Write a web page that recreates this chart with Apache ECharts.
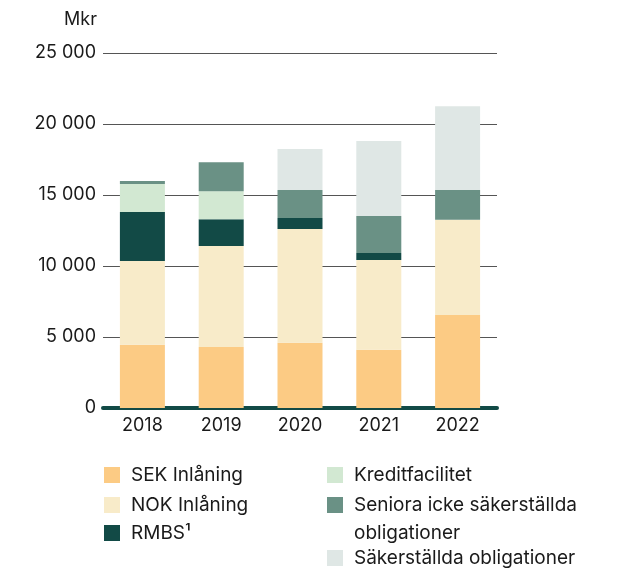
<!DOCTYPE html>
<html>
<head>
<meta charset="utf-8">
<script src="https://cdn.jsdelivr.net/npm/echarts@6/dist/echarts.min.js"></script>
<style>
  html, body { margin: 0; padding: 0; background: #fff; }
  #chart { width: 624px; height: 573px; }
</style>
</head>
<body>
<div id="chart"></div>
<script>
// data (Mkr)
var years = ['2018', '2019', '2020', '2021', '2022'];
var sekInlaning = [4450, 4300, 4600, 4100, 6550];
var nokInlaning = [5900, 7100, 8000, 6330, 6700];
var rmbs = [3450, 1900, 780, 490, 0];
var kredit = [1970, 1970, 0, 0, 0];
var seniora = [210, 2040, 1970, 2600, 2100];
var sakerstallda = [0, 0, 2890, 5280, 5900];

var names = ['SEK Inlåning', 'NOK Inlåning', 'RMBS¹', 'Kreditfacilitet',
    'Seniora icke säkerställda obligationer', 'Säkerställda obligationer'];
var colors = ['#fccb84', '#f8ebc9', '#124a46', '#d2e8d2', '#6a9185', '#dfe7e5'];
var values = [sekInlaning, nokInlaning, rmbs, kredit, seniora, sakerstallda];

var font = 'Inter, Roboto, sans-serif';

var myChart = echarts.init(document.getElementById('chart'));

// one legend per item so each sits where it does in the original
function legendItem(name, left, top) {
    return {
        data: [name],
        left: left,
        top: top,
        padding: 0,
        itemWidth: 16,
        itemHeight: 16,
        icon: 'rect',
        selectedMode: false,
        formatter: function (n) {
            // blank first line keeps the square next to the first text line
            return n === names[4] ? '\nSeniora icke säkerställda\nobligationer' : n;
        },
        textStyle: {
            fontFamily: font,
            fontSize: 19,
            color: '#1a1a1a',
            lineHeight: 28,
            padding: [0, 0, 0, 6]
        }
    };
}

var opt = {
    animation: false,
    color: colors,
    grid: { left: 103, right: 127, top: 53, bottom: 165 },
    legend: [
        legendItem(names[0], 104, 461),
        legendItem(names[1], 104, 491),
        legendItem(names[2], 104, 519),
        legendItem(names[3], 327, 461),
        legendItem(names[4], 327, 463),
        legendItem(names[5], 327, 544)
    ],
    xAxis: {
        type: 'category',
        data: years,
        axisTick: { show: false },
        axisLine: { lineStyle: { color: '#124a46', width: 4 } },
        axisLabel: { fontFamily: font, fontSize: 18, color: '#1a1a1a', margin: 9 }
    },
    yAxis: {
        type: 'value',
        min: 0,
        max: 25000,
        interval: 5000,
        name: 'Mkr',
        nameLocation: 'end',
        nameGap: 24,
        nameTextStyle: { fontFamily: font, fontSize: 18, color: '#1a1a1a', align: 'right', padding: [0, 6, 0, 0] },
        axisLine: { show: false },
        axisTick: { show: false },
        splitLine: { lineStyle: { color: '#555', width: 1 } },
        axisLabel: {
            fontFamily: font,
            fontSize: 18,
            color: '#1a1a1a',
            margin: 7,
            formatter: function (v) {
                return String(v).replace(/\B(?=(\d{3})+(?!\d))/g, ' ');
            }
        }
    },
    series: names.map(function (n, i) {
        return {
            name: n,
            type: 'bar',
            stack: 'total',
            barWidth: 45,
            data: values[i]
        };
    })
};

myChart.setOption(opt);
</script>
</body>
</html>
